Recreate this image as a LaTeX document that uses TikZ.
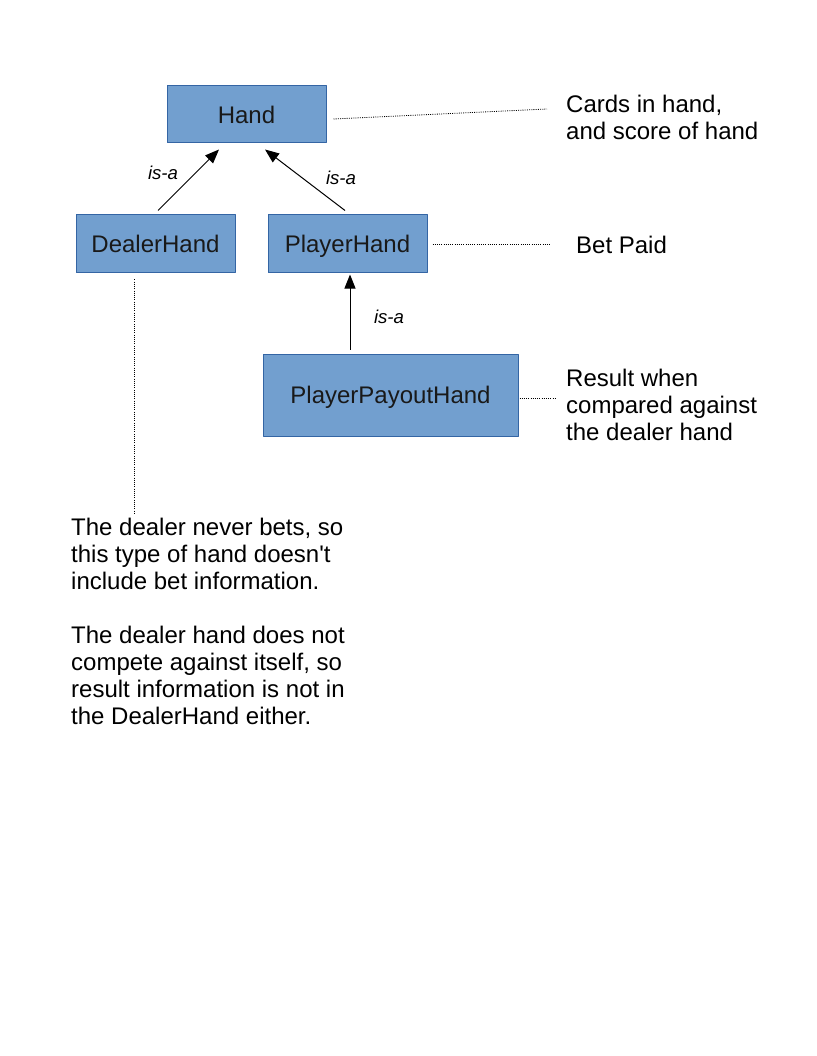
\documentclass[tikz,border=0pt]{standalone}
\usepackage{fontspec}
\setmainfont{Liberation Sans}
\usetikzlibrary{arrows.meta}
\definecolor{boxfill}{HTML}{729FCF}
\definecolor{boxline}{HTML}{3465A4}
\begin{document}
\begin{tikzpicture}[x=1pt,y=-1pt, line join=round,
cls/.style={draw=boxline,fill=boxfill,line width=1pt,inner sep=0pt,text height=17.5pt,text depth=0pt,font=\fontsize{24}{27}\selectfont,text=black!90},
isa/.style={line width=1pt,-{Triangle[length=14pt,width=11pt]}},
note/.style={line width=0.8pt,dash pattern=on 1pt off 1.2pt},
txt/.style={align=left,inner sep=0pt,font=\fontsize{24}{27}\selectfont},
lbl/.style={inner sep=0pt,font=\fontsize{18.6}{20}\selectfont\itshape}]
\useasboundingbox (0,0) rectangle (816,1056);
% class boxes
\node[cls,minimum width=159,minimum height=57] (hand) at (246.5,114.5) {Hand};
\node[cls,minimum width=159,minimum height=58] (dealer) at (155.5,244) {DealerHand};
\node[cls,minimum width=159,minimum height=58] (player) at (347.5,244) {PlayerHand};
\node[cls,minimum width=255,minimum height=82] (payout) at (390.5,395) {PlayerPayoutHand};
% notes
\node[txt,anchor=west] (cards) at (566,117.5) {Cards in hand,\\and score of hand};
\node[txt,anchor=west] (bet) at (576,245) {Bet Paid};
\node[txt,anchor=west] (result) at (566,405) {Result when\\compared against\\the dealer hand};
\node[txt,anchor=north west] (dnote) at (71,518) {The dealer never bets, so\\this type of hand doesn\textquotesingle t\\include bet information.\\[27pt]The dealer hand does not\\compete against itself, so\\result information is not in\\the DealerHand either.};
% is-a arrows
\draw[isa] ([xshift=2.5pt,yshift=4pt]dealer.north) -- ([xshift=-27.5pt,yshift=-6pt]hand.south);
\draw[isa] ([xshift=-2.5pt,yshift=4pt]player.north) -- ([xshift=18.5pt,yshift=-6pt]hand.south);
\draw[isa] ([xshift=-40.5pt,yshift=4pt]payout.north) -- ([xshift=2.5pt,yshift=-1pt]player.south);
\path (163,173) node[lbl] (l1) {is-a} (341,178) node[lbl] (l2) {is-a} (389,317) node[lbl] (l3) {is-a};
% dotted note lines
\draw[note] ([xshift=7pt,yshift=-4.5pt]hand.east) -- ([xshift=-19pt,yshift=8.5pt]cards.west);
\draw[note] ([xshift=5pt]player.east) -- ([xshift=-26pt,yshift=1pt]bet.west);
\draw[note] ([xshift=1pt,yshift=-3pt]payout.east) -- ([xshift=-10pt,yshift=7pt]result.west);
\draw[note] ([xshift=-21.5pt,yshift=-6pt]dealer.south) -- ([xshift=63pt,yshift=4pt]dnote.north west);
\end{tikzpicture}
\end{document}
